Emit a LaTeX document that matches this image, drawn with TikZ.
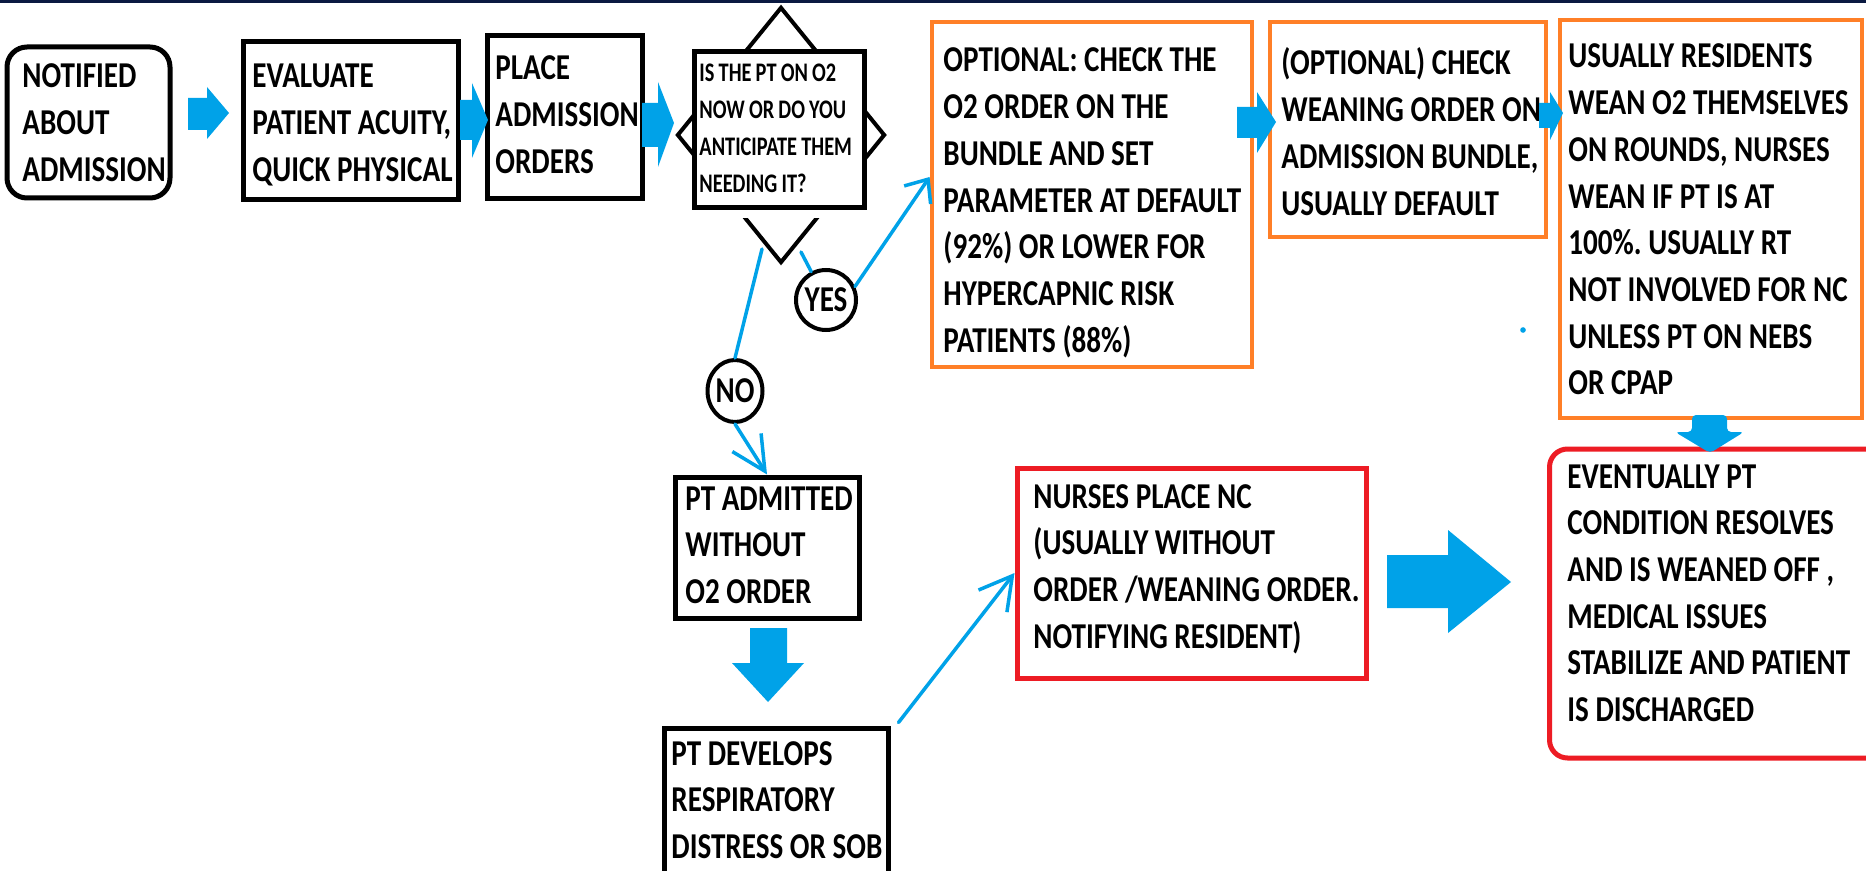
\documentclass[tikz,border=0pt]{standalone}
\usepackage{fontspec}
\setmainfont{Carlito}[FakeStretch=0.80]
\newfontfamily\qfont{Carlito}[FakeStretch=0.76]
\frenchspacing
\newcommand\mainspacing{\spaceskip=3.3pt plus 1pt minus 0.5pt\relax}
\newcommand\smallspacing{\spaceskip=2.1pt plus 1pt minus 0.5pt\relax}
\usetikzlibrary{arrows.meta,calc,shapes.geometric}
\definecolor{arrowblue}{RGB}{0,162,232}
\definecolor{boxorange}{RGB}{255,127,39}
\definecolor{boxred}{RGB}{237,28,36}
\definecolor{topnavy}{RGB}{10,25,65}
\tikzset{
  sz/.style 2 args={minimum width=#1*0.5pt, minimum height=#2*0.5pt},
  stepbox/.style={rectangle, draw=black, line width=2.5pt, fill=white, inner sep=0pt},
  orangebox/.style={stepbox, draw=boxorange, line width=2.4pt},
  redbox/.style={stepbox, draw=boxred, line width=2.5pt},
  txt/.style={inner sep=0pt, text width=190pt, align=left, anchor=base west,
    font=\bfseries\fontsize{18.2pt}{23.35pt}\selectfont,
    execute at begin node=\mainspacing},
  smalltxt/.style={inner sep=0pt, text width=190pt, align=left, anchor=base west,
    font=\qfont\bfseries\fontsize{13.4pt}{18.5pt}\selectfont,
    execute at begin node=\smallspacing},
  answer/.style={draw=black, line width=2pt, fill=white, inner sep=0pt,
    font=\bfseries\fontsize{18.2pt}{22pt}\selectfont},
  blockarrow/.style={fill=arrowblue, draw=none},
  thinline/.style={draw=arrowblue, line width=1.75pt, line cap=round},
}
\begin{document}
\begin{tikzpicture}[x=0.5pt,y=-0.5pt]
\useasboundingbox (0,0) rectangle (1866,871);
\clip (0,0) rectangle (1866,871);
\fill[white] (0,0) rectangle (1866,871);
\fill[topnavy] (0,0) rectangle (1866,3.5);

% ---------- top row ----------
\node[stepbox, rounded corners=10pt, sz={163}{151}] (notified) at (88.5,122.5) {};
\node[txt] (tnotified) at (22,88) {NOTIFIED\\ABOUT\\ADMISSION};

\node[stepbox, sz={215}{158}] (evaluate) at (351,121) {};
\node[txt] (tevaluate) at (252,88) {EVALUATE\\PATIENT ACUITY,\\QUICK PHYSICAL};

\node[stepbox, sz={155}{163}] (place) at (564.5,117.5) {};
\node[txt] (tplace) at (495,80) {PLACE\\ADMISSION\\ORDERS};

% decision
\node[diamond, draw=black, line width=2pt, inner sep=0pt, sz={208}{256}] (dia) at (781,135) {};
\fill[white] (694,52) rectangle (864,218);
\node[stepbox, sz={170}{156}] (question) at (779,130) {};
\node[smalltxt] (tquestion) at (699,82) {IS THE PT ON O2\\NOW OR DO YOU\\ANTICIPATE THEM\\NEEDING IT?};

\node[orangebox, sz={320}{345}] (opt1) at (1092,194.5) {};
\node[txt] (topt1) at (943,72) {OPTIONAL: CHECK THE\\O2 ORDER ON THE\\BUNDLE AND SET\\PARAMETER AT DEFAULT\\(92\%) OR LOWER FOR\\HYPERCAPNIC RISK\\PATIENTS (88\%)};

\node[orangebox, sz={276}{215}] (opt2) at (1408,129.5) {};
\node[txt] (topt2) at (1281,75) {(OPTIONAL) CHECK\\WEANING ORDER ON\\ADMISSION BUNDLE,\\USUALLY DEFAULT};

\node[orangebox, sz={302}{398}] (usually) at (1711,219) {};
\node[txt] (tusually) at (1568,68) {USUALLY RESIDENTS\\WEAN O2 THEMSELVES\\ON ROUNDS, NURSES\\WEAN IF PT IS AT\\100\%. USUALLY RT\\NOT INVOLVED FOR NC\\UNLESS PT ON NEBS\\OR CPAP};

% ---------- lower part ----------
\node[answer, circle, minimum size=30pt] (yes) at (826,300) {YES};
\node[answer, ellipse, sz={54}{62}] (no) at (735,391) {NO};

\node[stepbox, sz={184}{141}] (admitted) at (767,547.5) {};
\node[txt] (tadmitted) at (685,510) {PT ADMITTED\\WITHOUT\\O2 ORDER};

\node[stepbox, sz={224}{162}] (develops) at (776,809) {};
\node[txt] (tdevelops) at (671,765) {PT DEVELOPS\\RESPIRATORY\\DISTRESS OR SOB};

\node[redbox, sz={349}{210}] (nurses) at (1191.5,573) {};
\node[txt] (tnurses) at (1033,508) {NURSES PLACE NC\\(USUALLY WITHOUT\\ORDER /WEANING ORDER.\\NOTIFYING RESIDENT)};

\node[redbox, rounded corners=9pt, sz={341}{309}] (eventually) at (1720,603.5) {};
\node[txt] (teventually) at (1567,488) {EVENTUALLY PT\\CONDITION RESOLVES\\AND IS WEANED OFF ,\\MEDICAL ISSUES\\STABILIZE AND PATIENT\\IS DISCHARGED};

% ---------- block arrows ----------
\path[blockarrow] (188,98) -- (207,98) -- (207,87) -- (229,113) -- (207,139) -- (207,130) -- (188,130) -- cycle;
\path[blockarrow] (460,100) -- (472,100) -- (472,83) -- (488,120) -- (472,158) -- (472,140) -- (460,140) -- cycle;
\path[blockarrow] (642,103) -- (658,103) -- (658,82) -- (674,123) -- (658,167) -- (658,147) -- (642,147) -- cycle;
\path[blockarrow] (1237,107) -- (1257,107) -- (1257,92) -- (1276,122) -- (1257,153) -- (1257,138) -- (1237,138) -- cycle;
\path[blockarrow] (1539,103) -- (1550,103) -- (1550,92) -- (1563,113) -- (1550,140) -- (1550,128) -- (1539,128) -- cycle;
\path[blockarrow, rounded corners=2pt] (1692,415) -- (1727,415) -- (1727,432) -- (1744,432) -- (1710,453) -- (1675,432) -- (1692,432) -- cycle;
\path[blockarrow] (750,628) -- (787,628) -- (787,663) -- (804,663) -- (768,702) -- (732,663) -- (750,663) -- cycle;
\path[blockarrow] (1387,555) -- (1448,555) -- (1448,530) -- (1511,582) -- (1448,633) -- (1448,608) -- (1387,608) -- cycle;

% ---------- thin connectors ----------
\coordinate (yesstart) at ($(dia.south)+(20,-13)$);
\coordinate (nostart) at ($(dia.south)+(-19,-16)$);
\draw[thinline] (yesstart) -- (yes);
\draw[thinline, -{Straight Barb[length=9.5pt, width=16pt, line width=1.75pt]}] (yes.25) -- ($(opt1.west)+(0,-17.5)$);
\draw[thinline] (nostart) -- (no.north);
\draw[thinline, -{Straight Barb[length=17pt, width=17pt, line width=1.75pt]}] (no.south) -- (admitted.north);
\draw[thinline, -{Straight Barb[length=16pt, width=18pt, line width=1.75pt]}] ($(develops.north east)+(8,-3)$) -- (nurses.west);

% stray dot
\fill[arrowblue] (1523,330) circle (1.4pt);
\end{tikzpicture}
\end{document}
